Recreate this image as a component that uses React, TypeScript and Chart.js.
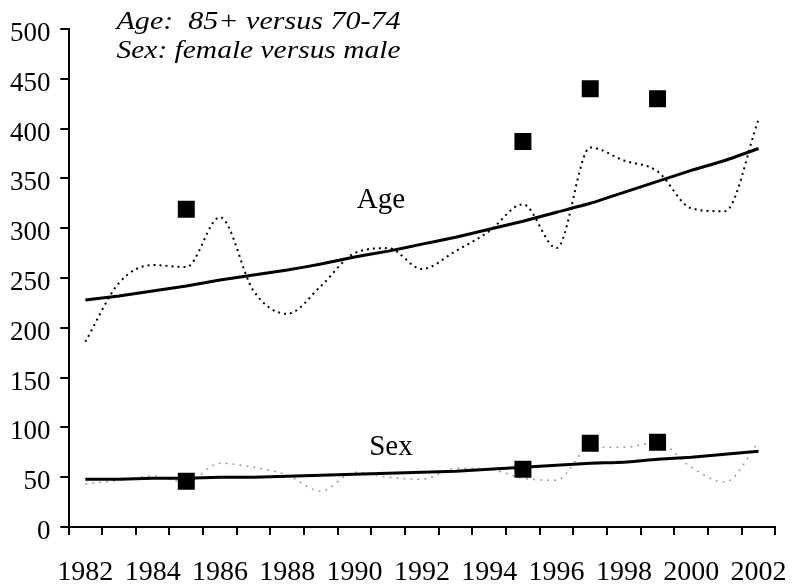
import React, { useEffect, useRef } from "react";
import { Chart, registerables } from "chart.js";

Chart.register(...registerables);

const years = ["1982","1983","1984","1985","1986","1987","1988","1989","1990","1991","1992","1993","1994","1995","1996","1997","1998","1999","2000","2001","2002"];
const yTicks = [0, 50, 100, 150, 200, 250, 300, 350, 400, 450, 500];

const ageTrend = [228, 232, 237, 242, 248, 253, 258, 264, 271, 277, 284, 291, 299, 307, 316, 325, 336, 347, 358, 368, 380];
const ageObserved = [186, 245, 263, 261, 311, 237, 214, 242, 275, 280, 259, 277, 297, 324, 280, 381, 368, 357, 320, 317, 409];
const ageHighlight = [null, null, null, 319, null, null, null, null, null, null, null, null, null, 387, null, 440, null, 430, null, null, null];

const sexTrend = [48, 48, 49, 49, 50, 50, 51, 52, 53, 54, 55, 56, 58, 60, 62, 64, 65, 68, 70, 73, 76];
const sexObserved = [43, 47, 51, 45, 64, 60, 52, 36, 55, 50, 48, 59, 58, 49, 47, 80, 80, 85, 60, 45, 85];
const sexHighlight = [null, null, null, 46, null, null, null, null, null, null, null, null, null, 58, null, 84, null, 85, null, null, null];

const titleLines = ["Age:  85+ versus 70-74", "Sex: female versus male"];
const seriesLabels = [
  { text: "Age", index: 8.78, value: 320 },
  { text: "Sex", index: 9.08, value: 72 },
];

const SERIF = "'Liberation Serif', 'Times New Roman', Times, serif";

const textPlugin = {
  id: "textPlugin",
  afterDraw(chart: any) {
    const ctx = chart.ctx;
    const area = chart.chartArea;
    const xs = chart.scales.x;
    const ys = chart.scales.y;
    ctx.save();
    // tick marks (outside the axes)
    ctx.strokeStyle = "#000";
    ctx.lineWidth = 2;
    ctx.beginPath();
    for (let i = 0; i <= years.length; i++) {
      const px = Math.round(xs.getPixelForValue(i - 0.5)) + 0.0;
      ctx.moveTo(px, area.bottom);
      ctx.lineTo(px, area.bottom + 8);
    }
    yTicks.forEach((v) => {
      const py = Math.round(ys.getPixelForValue(v));
      ctx.moveTo(area.left - 8, py);
      ctx.lineTo(area.left, py);
    });
    ctx.stroke();

    ctx.fillStyle = "#000";
    ctx.font = `italic 26px ${SERIF}`;
    ctx.textAlign = "left";
    ctx.textBaseline = "alphabetic";
    const targetW = 284;
    titleLines.forEach((t, i) => {
      const w = ctx.measureText(t).width;
      const sx = targetW / w;
      ctx.save();
      ctx.translate(area.left + 48, area.top + 0 + i * 29);
      ctx.scale(sx, 1);
      ctx.fillText(t, 0, 0);
      ctx.restore();
    });
    ctx.font = `29px ${SERIF}`;
    ctx.textAlign = "center";
    seriesLabels.forEach((l) => {
      ctx.fillText(l.text, xs.getPixelForValue(l.index), ys.getPixelForValue(l.value));
    });
    ctx.restore();
  },
};

export default function App() {
  const ref = useRef<HTMLCanvasElement>(null);
  useEffect(() => {
    const canvas = ref.current!;
    const chart = new Chart(canvas, {
      type: "line",
      data: {
        labels: years,
        datasets: [
          { label: "Age trend", data: ageTrend, borderColor: "#000", borderWidth: 3, pointRadius: 0, tension: 0.2, order: 3 },
          { label: "Age observed", data: ageObserved, borderColor: "#000", borderWidth: 2, borderDash: [2, 4], pointRadius: 0, cubicInterpolationMode: "monotone", order: 4 },
          { label: "Age highlight", data: ageHighlight, showLine: false, pointStyle: "rect", pointRadius: 12, backgroundColor: "#000", borderColor: "#000", borderWidth: 0, order: 1 },
          { label: "Sex trend", data: sexTrend, borderColor: "#000", borderWidth: 3, pointRadius: 0, tension: 0.2, order: 3 },
          { label: "Sex observed", data: sexObserved, borderColor: "#9a9a9a", borderWidth: 1.5, borderDash: [2, 5], pointRadius: 0, cubicInterpolationMode: "monotone", order: 4 },
          { label: "Sex highlight", data: sexHighlight, showLine: false, pointStyle: "rect", pointRadius: 12, backgroundColor: "#000", borderColor: "#000", borderWidth: 0, order: 1 },
        ] as any,
      },
      options: {
        animation: false,
        responsive: false,
        devicePixelRatio: 1,
        layout: { padding: { top: 29, right: 19.5, left: 0, bottom: 0 } },
        plugins: { legend: { display: false }, tooltip: { enabled: false }, title: { display: false } },
        scales: {
          x: {
            type: "category",
            offset: true,
            grid: { offset: true, drawOnChartArea: false, drawTicks: true, tickLength: 8, color: "#000", lineWidth: 2 },
            border: { display: true, color: "#000", width: 2 },
            ticks: {
              autoSkip: false,
              maxRotation: 0,
              color: "#000",
              padding: 21,
              font: { family: SERIF, size: 28 },
              callback: (_v: any, i: number) => (i % 2 === 0 ? years[i] : ""),
            },
            afterFit: (s: any) => { s.height = 60; },
          },
          y: {
            min: 0,
            max: 500,
            afterBuildTicks: (s: any) => { s.ticks = yTicks.map((v) => ({ value: v })); },
            grid: { drawOnChartArea: false, drawTicks: true, tickLength: 8, color: "#000", lineWidth: 2 },
            border: { display: true, color: "#000", width: 2 },
            ticks: { color: "#000", padding: 10, labelOffset: 5, font: { family: SERIF, size: 27 } },
            afterFit: (s: any) => { s.width = 68.5; },
          },
        },
      },
      plugins: [textPlugin],
    });
    return () => chart.destroy();
  }, []);
  return (
    <div style={{ position: "absolute", left: 0, top: 0, width: 808, height: 587, background: "#fff" }}>
      <canvas ref={ref} width={808} height={587} />
    </div>
  );
}
